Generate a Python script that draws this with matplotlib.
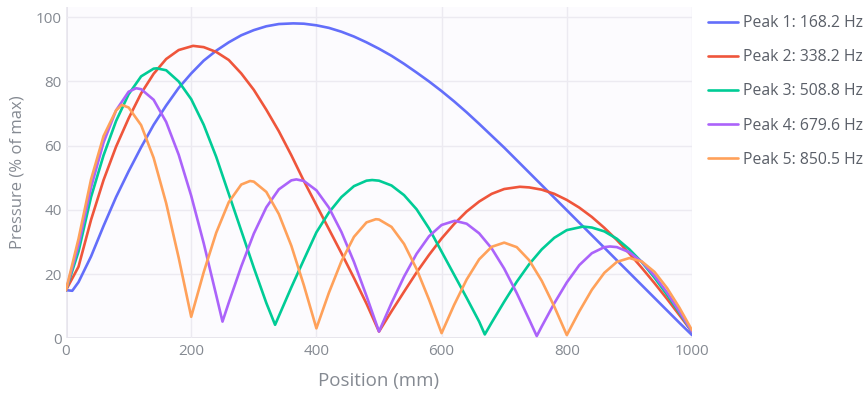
import matplotlib.pyplot as plt

plt.rcParams['font.family'] = ['Open Sans', 'DejaVu Sans']

# Pressure along the tube (position in mm, % of max)
labels = ['Peak 1: 168.2 Hz', 'Peak 2: 338.2 Hz', 'Peak 3: 508.8 Hz',
          'Peak 4: 679.6 Hz', 'Peak 5: 850.5 Hz']

x1 = [0, 10, 20, 40, 60, 80, 100, 120, 140, 160, 180, 200, 220, 240, 260, 280, 300,
      320, 340, 363, 380, 400, 420, 440, 460, 480, 500, 520, 540, 560, 580, 600,
      620, 640, 660, 680, 700, 720, 740, 760, 780, 800, 820, 840, 860, 880, 900,
      920, 940, 960, 980, 1000]
y1 = [15, 14.8, 17.5, 25.5, 35, 44, 52, 59.5, 66.5, 72.5, 78, 82.5, 86.5, 89.6, 92.2,
      94.4, 96.0, 97.2, 97.9, 98.1, 98.0, 97.5, 96.7, 95.5, 94.0, 92.2, 90.2, 88.0,
      85.5, 82.8, 80.0, 77.0, 73.8, 70.4, 66.8, 63.1, 59.4, 55.5, 51.6, 47.7, 43.8,
      39.9, 36.0, 32.1, 28.2, 24.3, 20.4, 16.5, 12.6, 8.7, 4.8, 1.0]

x2 = [0, 20, 40, 60, 80, 100, 120, 140, 160, 180, 203, 220, 240, 260, 280, 300, 320,
      340, 360, 380, 400, 420, 440, 460, 480, 500, 520, 540, 560, 580, 600, 620, 640,
      660, 680, 700, 725, 740, 760, 780, 800, 820, 840, 860, 880, 900, 920, 940, 960,
      980, 1000]
y2 = [15, 22.3, 36.9, 49.3, 59.7, 68.5, 76.3, 82.4, 87.0, 89.8, 91.1, 90.7, 89.2,
      86.7, 82.5, 77.4, 71.2, 64.5, 57.0, 49.0, 41.5, 34.0, 26.5, 18.8, 10.8, 2.1,
      8.4, 14.5, 20.5, 26.0, 31.1, 35.6, 39.5, 42.6, 45.0, 46.5, 47.2, 47.0, 46.3,
      45.0, 43.1, 40.7, 37.8, 34.4, 30.6, 26.4, 21.9, 17.2, 12.3, 7.2, 2.0]

x3 = [0, 20, 40, 60, 80, 100, 120, 140, 145, 160, 180, 200, 220, 240, 260, 280, 300,
      320, 334, 340, 360, 380, 400, 420, 440, 460, 480, 489, 500, 520, 540, 560, 580,
      600, 620, 640, 660, 669, 680, 700, 720, 740, 760, 780, 800, 826, 840, 860, 880,
      900, 920, 940, 960, 980, 1000]
y3 = [15, 27, 44, 57, 67.7, 76, 81.6, 84.0, 84.1, 83.5, 80, 74.5, 66.5, 56.5, 45,
      33.5, 22, 11, 4.2, 6.9, 15.9, 24.5, 33, 39.2, 44, 47.4, 49.1, 49.3, 49.1, 47.6,
      44.6, 40.2, 34.2, 27, 19.8, 12.6, 5.2, 1.2, 4.9, 11.4, 17.6, 23.1, 27.7, 31.3,
      33.7, 34.8, 34.5, 33.3, 31.0, 27.7, 23.7, 18.9, 13.6, 7.9, 2.0]

x4 = [0, 20, 40, 60, 80, 100, 112, 120, 140, 160, 180, 200, 220, 240, 250, 260, 280,
      300, 320, 340, 360, 368, 380, 400, 420, 440, 460, 480, 500, 520, 540, 560, 580,
      600, 621, 640, 660, 680, 700, 720, 740, 752, 760, 780, 800, 820, 840, 860, 869,
      880, 900, 920, 940, 960, 980, 1000]
y4 = [15, 29, 47, 61, 71, 76.8, 77.9, 77.6, 74.3, 67.4, 57.2, 44.4, 29.6, 13.4, 5.2,
      11.1, 22.4, 32.6, 40.8, 46.4, 49.2, 49.5, 49.0, 46.1, 40.7, 33.1, 23.8, 13.2,
      2.1, 11.0, 19.2, 26.3, 31.8, 35.3, 36.6, 35.7, 32.7, 28.0, 21.7, 14.1, 5.8, 0.7,
      3.7, 10.9, 17.4, 22.8, 26.5, 28.4, 28.6, 28.4, 26.8, 23.8, 19.5, 14.3, 8.3, 2.0]

x5 = [0, 20, 40, 60, 80, 89, 100, 120, 140, 160, 180, 200, 220, 240, 260, 280, 294,
      300, 320, 340, 360, 380, 400, 420, 440, 460, 480, 495, 500, 520, 540, 560, 580,
      600, 620, 640, 660, 680, 700, 720, 740, 760, 780, 800, 820, 840, 860, 880, 900,
      920, 940, 960, 980, 1000]
y5 = [15, 31, 49.5, 63, 71, 72.7, 71.9, 66.4, 56.2, 42.1, 25.1, 6.7, 20.6, 32.9, 42.4,
      47.9, 49.0, 48.8, 45.6, 38.7, 28.8, 16.5, 3.1, 14.2, 24.0, 31.6, 36.1, 37.1,
      37.0, 34.7, 29.4, 21.6, 12.0, 1.6, 10.4, 18.3, 24.6, 28.5, 29.8, 28.4, 24.3,
      17.9, 9.9, 1.0, 8.4, 15.1, 20.4, 23.8, 25.0, 23.9, 20.7, 15.7, 9.5, 2.5]

xs = [x1, x2, x3, x4, x5]
ys = [y1, y2, y3, y4, y5]
colors = ['#636efa', '#ef553b', '#00cc96', '#ab63fa', '#ffa15a']

fig = plt.figure(figsize=(8.65, 3.94), dpi=100)
fig.patch.set_facecolor('white')
ax = fig.add_axes([0.0763, 0.1414, 0.7237, 0.8416])
ax.set_facecolor('#fcfbfe')

for x, y, c, lab in zip(xs, ys, colors, labels):
    ax.plot(x, y, color=c, lw=1.9, label=lab, zorder=3, solid_capstyle='round')

ax.set_xlim(0, 1000)
ax.set_ylim(0, 103.3)
ax.set_xticks([0, 200, 400, 600, 800, 1000])
ax.set_yticks([0, 20, 40, 60, 80, 100])
ax.grid(True, color='#eceaf1', lw=1, zorder=0)
ax.axhline(0, color='#e4e2ea', lw=2, zorder=1)
ax.axvline(0, color='#e4e2ea', lw=2, zorder=1)
for s in ax.spines.values():
    s.set_visible(False)
ax.tick_params(length=0, labelsize=11, labelcolor='#858a92')
ax.tick_params(axis='x', pad=4)
ax.tick_params(axis='y', pad=3)

ax.set_xlabel('Position (mm)', fontsize=13.5, color='#858a92', va='center')
ax.set_ylabel('Pressure (% of max)', fontsize=12, color='#858a92', va='center')
ax.xaxis.set_label_coords(0.5, -0.129)
ax.yaxis.set_label_coords(-0.077, 0.5)

leg = ax.legend(loc='upper left', bbox_to_anchor=(0.8185, 0.961),
                bbox_transform=fig.transFigure, frameon=False, fontsize=11.3,
                handlelength=1.91, handletextpad=0.32, labelspacing=1.15,
                borderaxespad=0, borderpad=0)
for t in leg.get_texts():
    t.set_color('#5a5f68')

fig.savefig('out.png', dpi=100, facecolor='white')
